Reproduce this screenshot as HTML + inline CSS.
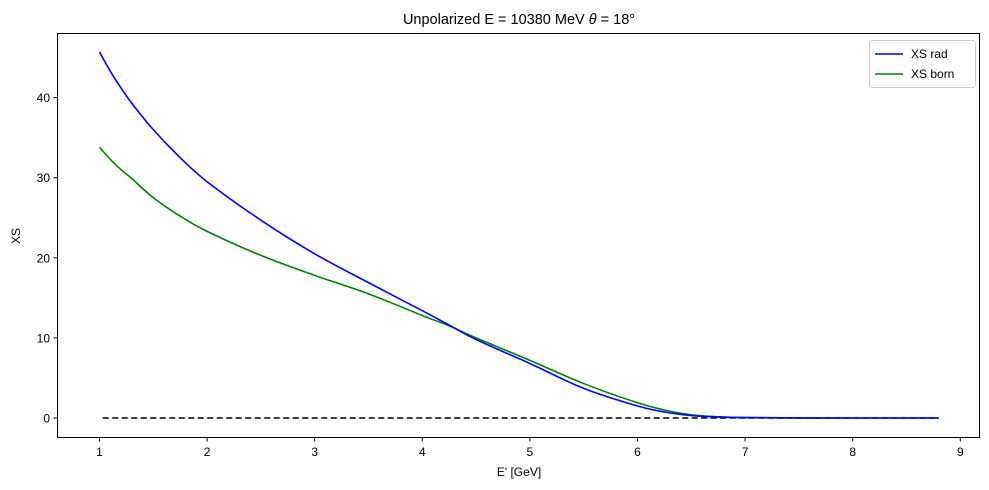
<!DOCTYPE html>
<html><head><meta charset="utf-8"><style>
body{margin:0;background:#fff;}
svg{display:block;font-family:"Liberation Sans","DejaVu Sans",sans-serif;}
</style></head><body>
<svg id="chart" width="989" height="490" viewBox="0 0 989 490">
<text x="519" y="24" font-size="14.5" text-anchor="middle">Unpolarized E = 10380 MeV <tspan font-style="italic">θ</tspan> = 18°</text>
<g id="plot"></g>
<rect x="57.5" y="33.5" width="922" height="404" fill="none" stroke="#000" stroke-width="1"/>
<text x="519" y="476" font-size="12" text-anchor="middle">E' [GeV]</text>
<text x="20" y="236" font-size="12" text-anchor="middle" transform="rotate(-90 20 236)">XS</text>
<g>
<rect x="869.5" y="40.5" width="106" height="47" rx="3" fill="#fff" stroke="#ccc"/>
<line x1="875" y1="54" x2="903" y2="54" stroke="#0000ff" stroke-width="1.6"/>
<text x="911" y="58" font-size="12">XS rad</text>
<line x1="875" y1="74" x2="903" y2="74" stroke="#008000" stroke-width="1.6"/>
<text x="911" y="78" font-size="12">XS born</text>
</g>
</svg>
<script>
const energies = [1,1.1,1.2,1.3,1.5,1.75,2,2.5,3,3.5,4,4.25,4.5,5,5.5,6,6.25,6.5,6.75,7,7.5,8,8.8];
const xsRad  = [45.7,43.3,41.2,39.3,36.0,32.5,29.5,24.7,20.5,16.9,13.4,11.6,9.8,6.8,3.7,1.5,0.75,0.3,0.12,0.05,0.01,0,0];
const xsBorn = [33.8,32.3,31.0,29.9,27.5,25.2,23.3,20.3,17.8,15.5,12.8,11.5,10.0,7.2,4.3,1.9,1.0,0.4,0.15,0.05,0.01,0,0];
const refLine = [1.03, 8.8];
const xTicks = [1,2,3,4,5,6,7,8,9];
const yTicks = [0,10,20,30,40];

const NS="http://www.w3.org/2000/svg";
const X=v=>99.5+(v-1)*107.6;
const Y=v=>418-v*8.01;
const g=document.getElementById('plot');
function mk(t,a){const e=document.createElementNS(NS,t);for(const k in a)e.setAttribute(k,a[k]);g.appendChild(e);return e;}
xTicks.forEach(t=>{
  const l=mk('line',{x1:X(t),x2:X(t),y1:437.5,y2:441.5,stroke:'#000'});
  
  
  const s=mk('text',{x:X(t),y:456,'font-size':12,'text-anchor':'middle'});s.textContent=t;
  
  
});
yTicks.forEach(t=>{
  const l=mk('line',{x1:53.5,x2:57.5,y1:Y(t),y2:Y(t),stroke:'#000'});
  
  
  const s=mk('text',{x:50,y:Y(t)+4.5,'font-size':12,'text-anchor':'end'});s.textContent=t;
  
  
});
const d=mk('line',{x1:X(refLine[0]),x2:X(refLine[1]),y1:Y(0),y2:Y(0),stroke:'#000','stroke-width':1.6,'stroke-dasharray':'6,3.5'});


function smoothPath(pts){
  let s='M'+pts[0][0]+','+pts[0][1];
  for(let i=0;i<pts.length-1;i++){
    const p0=pts[Math.max(0,i-1)],p1=pts[i],p2=pts[i+1],p3=pts[Math.min(pts.length-1,i+2)];
    const c1x=p1[0]+(p2[0]-p0[0])/6,c1y=p1[1]+(p2[1]-p0[1])/6;
    const c2x=p2[0]-(p3[0]-p1[0])/6,c2y=p2[1]-(p3[1]-p1[1])/6;
    s+=' C'+c1x+','+c1y+' '+c2x+','+c2y+' '+p2[0]+','+p2[1];
  }
  return s;
}
function curve(ys,c,name){
  const pts=energies.map((e,i)=>[X(e),Y(ys[i])]);
  const p=mk('path',{d:smoothPath(pts),fill:'none',stroke:c,'stroke-width':1.6,'stroke-linejoin':'round'});
  
  
}
curve(xsBorn,'#008000','xs-born-line');
curve(xsRad,'#0000ff','xs-rad-line');
</script>
</body></html>
